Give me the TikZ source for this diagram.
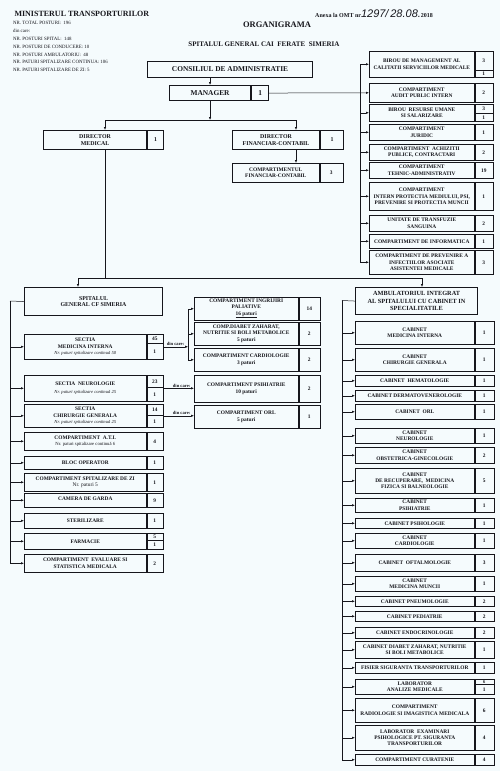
\documentclass[tikz,border=0pt]{standalone}
\usepackage{fontspec}
\setmainfont{Liberation Serif}
\newfontfamily\handfont{Liberation Sans}
\usetikzlibrary{arrows.meta,positioning}
\definecolor{paper}{RGB}{245,251,253}
\definecolor{ink}{RGB}{22,22,28}
\newcommand{\paturi}[1]{{\mdseries\itshape\fontsize{4.6}{5.6}\selectfont #1}}

\begin{document}
\begin{tikzpicture}[x=1pt, y=-1pt,
    unit/.style={draw=ink, line width=0.55pt, rectangle, anchor=north west, align=center,
                 inner sep=0.5pt, text=ink, font=\bfseries\fontsize{5.4}{6.1}\selectfont},
    num/.style={unit, inner sep=0pt},
    head/.style={unit, line width=1.1pt, font=\bfseries\fontsize{7.4}{8.5}\selectfont},
    dir/.style={head, font=\bfseries\fontsize{5.9}{6.8}\selectfont},
    arr/.style={draw=ink, line width=0.5pt, -{Latex[length=3pt,width=2.4pt]}},
    link/.style={draw=ink, line width=0.5pt},
    dcare/.style={font=\bfseries\fontsize{4.6}{5}\selectfont, inner sep=0.8pt, text=ink}
  ]
    % Page
    \fill[paper] (0,0) rectangle (500,771);

    % Header
    \node[anchor=west, text=ink, font=\bfseries\fontsize{8}{9}\selectfont] (minist) at (11,14)
      {MINISTERUL TRANSPORTURILOR};
    \node[anchor=north west, align=left, inner sep=0pt, text=ink,
          font=\fontsize{4.9}{7.9}\selectfont] (posturi) at (13,21)
      {NR. TOTAL POSTURI:\ \ 196\\din care:\\NR. POSTURI SPITAL:\ \ 148\\NR. POSTURI DE CONDUCERE: 10\\
       NR. POSTURI AMBULATORIU:\ \ 48\\NR. PATURI SPITALIZARE CONTINUA: 106\\NR. PATURI SPITALIZARE DE ZI: 5};
    \node[anchor=base west, inner sep=0pt, text=ink, font=\bfseries\fontsize{6}{7}\selectfont] (anexa) at (315,17)
      {Anexa la OMT nr{\handfont\itshape\mdseries\fontsize{11}{11}\selectfont 1297/\,28.08.}2018};
    \node[text=ink, font=\bfseries\fontsize{8.5}{10}\selectfont] (titlu) at (277,25) {ORGANIGRAMA};
    \node[text=ink, font=\bfseries\fontsize{7}{8}\selectfont] (spital) at (264,44)
      {SPITALUL GENERAL CAI\ \ FERATE\ \ SIMERIA};

    % Conducere
    \node[head, minimum width=165, minimum height=16] (cons) at (147,61) {CONSILIUL DE ADMINISTRATIE};
    \node[head, minimum width=81, minimum height=15] (mgr) at (169,85) {MANAGER};
    \node[head, minimum width=17, minimum height=15] (nmgr) at (mgr.north east) {1};
    \node[dir, minimum width=103, minimum height=19] (dmed) at (43,130) {DIRECTOR\\MEDICAL};
    \node[dir, minimum width=16, minimum height=19] (ndmed) at (dmed.north east) {1};
    \node[dir, minimum width=87, minimum height=19] (dfin) at (232,130) {DIRECTOR\\FINANCIAR-CONTABIL};
    \node[dir, minimum width=23, minimum height=19] (ndfin) at (dfin.north east) {1};
    \node[unit, minimum width=87, minimum height=19] (cfin) at (232,163) {COMPARTIMENTUL\\FINANCIAR-CONTABIL};
    \node[num, minimum width=23, minimum height=19] (ncfin) at (cfin.north east) {3};

    \coordinate (jmed) at (105,120);
    \coordinate (jfin) at (296,120);
    \draw[arr] (mgr.north |- cons.south) -- (mgr.north);
    \draw[link] (jmed) -- (jfin);
    \draw[arr] (mgr.south) -- (mgr.south |- jmed);
    \draw[arr] (jmed) -- (jmed |- dmed.north);
    \draw[arr] (jfin) -- (jfin |- dfin.north);
    \draw[arr] (jfin |- dfin.south) -- (jfin |- cfin.north);

    % Structuri subordonate managerului
    \foreach \n/\y/\h/\lbl/\cnt in {
      b1/51/26/{BIROU DE MANAGEMENT AL\\CALITATII SERVICIILOR MEDICALE}/{},
      b2/83/19/{COMPARTIMENT\\AUDIT PUBLIC INTERN}/2,
      b3/104/17/{BIROU\ \ RESURSE UMANE\\SI SALARIZARE}/{},
      b4/124/16/{COMPARTIMENT\\JURIDIC}/1,
      b5/144/16/{COMPARTIMENT\ \ ACHIZITII\\PUBLICE, CONTRACTARI}/2,
      b6/162/16/{COMPARTIMENT\\TEHNIC-ADMINISTRATIV}/19,
      b7/182/28/{COMPARTIMENT\\INTERN PROTECTIA MEDIULUI, PSI,\\PREVENIRE SI PROTECTIA MUNCII}/1,
      b8/215/16/{UNITATE DE TRANSFUZIE\\SANGUINA}/2,
      b9/234/14/{COMPARTIMENT DE INFORMATICA}/1,
      b10/250/24/{COMPARTIMENT DE PREVENIRE A\\INFECTIILOR ASOCIATE\\ASISTENTEI MEDICALE}/3}{
      \node[unit, minimum width=105, minimum height=\h] (\n) at (369,\y) {\lbl};
      \node[num, minimum width=18, minimum height=\h] (n\n) at (\n.north east) {\cnt};
    }
    \node[num, minimum width=18, minimum height=19] at (nb1.north west) {3};
    \node[num, anchor=south west, minimum width=18, minimum height=7] at (nb1.south west) {1};
    \node[num, minimum width=18, minimum height=9] at (nb3.north west) {3};
    \node[num, anchor=south west, minimum width=18, minimum height=8] at (nb3.south west) {1};

    \draw[arr] (nmgr.east) -- (b2.west);
    \coordinate (bbus) at (360,92.5);
    \foreach \n in {b1,b3,b4,b5,b6,b7,b8,b9,b10}
      \draw[arr] (bbus) |- (\n.west);

    % Spital si ambulatoriu
    \node[dir, minimum width=138, minimum height=28] (sp) at (24,287) {SPITALUL\\GENERAL CF SIMERIA};
    \node[head, minimum width=122, minimum height=27, font=\bfseries\fontsize{6.3}{7.6}\selectfont] (amb) at (355,287)
      {AMBULATORIUL INTEGRAT\\AL SPITALULUI CU CABINET IN\\SPECIALITATILE};
    \coordinate (jsp) at (78,278);
    \coordinate (jamb) at (422,278);
    \draw[link] (jmed |- dmed.south) -- (jmed |- jsp);
    \draw[link] (jsp) -- (jamb);
    \draw[arr] (jsp) -- (jsp |- sp.north);
    \draw[arr] (jamb) -- (jamb |- amb.north);

    % Sectii si compartimente
    \foreach \n/\y/\h/\lbl/\cnt in {
      s1/334/25/{SECTIA\\MEDICINA INTERNA\\\paturi{Nr. paturi spitalizare continuă 50}}/{},
      s2/375/26/{SECTIA\ \ NEUROLOGIE\\[2pt]\paturi{Nr. paturi spitalizare continuă 25}}/{},
      s3/404/23/{SECTIA\\CHIRURGIE GENERALA\\\paturi{Nr. paturi spitalizare continuă 25}}/{},
      s4/432/18/{COMPARTIMENT\ \ A.T.I.\\{\mdseries\fontsize{4.7}{5.6}\selectfont Nr. paturi spitalizare continuă 6}}/4,
      s5/456/13/{BLOC OPERATOR}/1,
      s6/473/18/{COMPARTIMENT SPITALIZARE DE ZI\\{\mdseries Nr. paturi 5}}/1,
      s7/493/14/{\raisebox{3pt}{CAMERA DE GARDA}}/9,
      s8/513/15/{STERILIZARE}/1,
      s9/533/16/{FARMACIE}/{},
      s10/554/18/{COMPARTIMENT\ \ EVALUARE SI\\STATISTICA MEDICALA}/2}{
      \node[unit, minimum width=122, minimum height=\h] (\n) at (24,\y) {\lbl};
      \node[num, minimum width=16, minimum height=\h] (n\n) at (\n.north east) {\cnt};
    }
    \node[num, minimum width=16, minimum height=9] at (ns1.north west) {45};
    \node[num, anchor=south west, minimum width=16, minimum height=16] at (ns1.south west) {1};
    \node[num, minimum width=16, minimum height=12] at (ns2.north west) {23};
    \node[num, anchor=south west, minimum width=16, minimum height=14] at (ns2.south west) {1};
    \node[num, minimum width=16, minimum height=11] at (ns3.north west) {14};
    \node[num, anchor=south west, minimum width=16, minimum height=12] at (ns3.south west) {1};
    \node[num, minimum width=16, minimum height=7] at (ns9.north west) {5};
    \node[num, anchor=south west, minimum width=16, minimum height=9] at (ns9.south west) {1};

    \coordinate (sbus) at (10,301);
    \draw[link] (sp.west) -- (sbus);
    \foreach \n in {s1,s2,s3,s4,s5,s6,s7,s8,s9,s10}
      \draw[arr] (sbus) |- (\n.west);

    % Compartimente cu paturi
    \foreach \n/\y/\h/\lbl/\cnt in {
      m1/297/23/{COMPARTIMENT INGRIJIRI\\PALIATIVE\\\underline{16 paturi}}/14,
      m2/322/23/{COMP.DIABET ZAHARAT,\\NUTRITIE SI BOLI METABOLICE\\5 paturi}/2,
      m3/348/23/{COMPARTIMENT CARDIOLOGIE\\3 paturi}/2,
      m4/375/27/{COMPARTIMENT PSIHIATRIE\\10 paturi}/2,
      m5/405/23/{COMPARTIMENT ORL\\5 paturi}/1}{
      \node[unit, minimum width=104, minimum height=\h] (\n) at (194,\y) {\lbl};
      \node[num, minimum width=21, minimum height=\h] (n\n) at (\n.north east) {\cnt};
    }
    \draw[arr] (ns1.east) -- ++(25,0) coordinate (brk) node[dcare, midway, above] {din care:};
    \foreach \n in {m1,m2,m3}
      \draw[arr] (brk) |- (\n.west);
    \draw[arr] (ns2.east) -- (ns2.east -| m4.west) node[dcare, pos=0.6, above] {din care:};
    \draw[arr] (ns3.east) -- (ns3.east -| m5.west) node[dcare, pos=0.6, above] {din care:};

    % Cabinete ambulatoriu
    \foreach \n/\y/\h/\lbl/\cnt in {
      a1/321/23/{CABINET\\MEDICINA INTERNA}/1,
      a2/348/23/{CABINET\\CHIRURGIE GENERALA}/1,
      a3/375/11/{CABINET\ \ HEMATOLOGIE}/1,
      a4/390/11/{CABINET DERMATOVENEROLOGIE}/1,
      a5/404/15/{CABINET\ \ ORL}/1,
      a6/428/15/{CABINET\\NEUROLOGIE}/1,
      a7/447/16/{CABINET\\OBSTETRICA-GINECOLOGIE}/{\raisebox{-4pt}{2}},
      a8/468/25/{CABINET\\DE RECUPERARE,\ \ MEDICINA\\FIZICA SI BALNEOLOGIE}/5,
      a9/498/14/{CABINET\\PSIHIATRIE}/1,
      a10/518/10/{CABINET PSIHOLOGIE}/1,
      a11/533/15/{CABINET\\CARDIOLOGIE}/1,
      a12/554/17/{CABINET\ \ OFTALMOLOGIE}/3,
      a13/576/15/{CABINET\\MEDICINA MUNCII}/1,
      a14/596/10/{CABINET PNEUMOLOGIE}/2,
      a15/611/10/{CABINET PEDIATRIE}/2,
      a16/627/11/{CABINET ENDOCRINOLOGIE}/2,
      a17/641/17/{CABINET DIABET ZAHARAT, NUTRITIE\\SI BOLI METABOLICE}/1,
      a18/662/11/{FISIER SIGURANTA TRANSPORTURILOR}/1,
      a19/679/15/{LABORATOR\\ANALIZE MEDICALE}/{},
      a20/698/24/{COMPARTIMENT\\RADIOLOGIE SI IMAGISTICA MEDICALA}/6,
      a21/725/25/{LABORATOR\ \ EXAMINARI\\PSIHOLOGICE PT. SIGURANTA\\TRANSPORTURILOR}/4,
      a22/754/11/{COMPARTIMENT CURATENIE}/4}{
      \node[unit, minimum width=119, minimum height=\h] (\n) at (355,\y) {\lbl};
      \node[num, minimum width=19, minimum height=\h] (n\n) at (\n.north east) {\cnt};
    }
    \node[num, minimum width=19, minimum height=5] at (na19.north west) {\fontsize{4.5}{4.5}\selectfont 6};
    \node[num, anchor=south west, minimum width=19, minimum height=10] at (na19.south west) {1};

    \coordinate (abus) at (342,300.5);
    \draw[link] (amb.west) -- (abus);
    \foreach \n in {a1,a2,a3,a4,a5,a6,a7,a8,a9,a10,a11,a12,a13,a14,a15,a16,a17,a18,a19,a20,a21,a22}
      \draw[arr] (abus) |- (\n.west);
\end{tikzpicture}
\end{document}
